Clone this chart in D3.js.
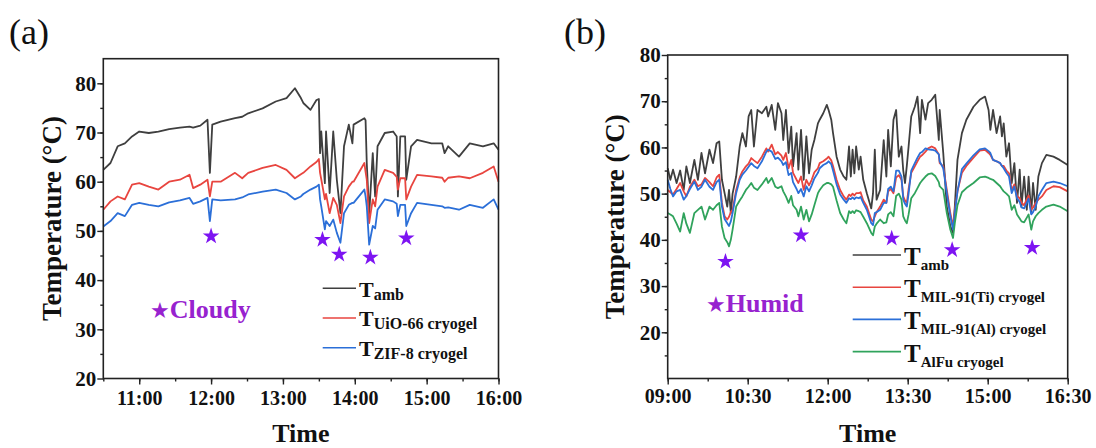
<!DOCTYPE html>
<meta charset="UTF-8">
<style>
  body { margin: 0; background: #fff; }
</style>
<svg width="1096" height="448"></svg>
<script src="https://d3js.org/d3.v7.min.js"></script>
<script>

// ---- panel (a): cloudy day ----
var timeA = ["10:30","10:36","10:42","10:48","10:54","11:00","11:08","11:16","11:25","11:34",
  "11:42","11:45","11:51","11:57","11:59","12:01","12:08","12:20","12:26","12:31",
  "12:43","12:54","13:03","13:10","13:15","13:17","13:23","13:28","13:30","13:31",
  "13:32","13:35","13:36","13:39","13:42","13:45","13:48","13:51","13:55","13:58",
  "13:59","14:08","14:09","14:10","14:12","14:15","14:17","14:19","14:25","14:32",
  "14:35","14:36","14:38","14:42","14:43","14:47","14:52","15:04","15:13","15:15",
  "15:18","15:27","15:36","15:47","15:56","16:00"];
var ambA = [62.4,63.8,67.2,67.8,69.2,70.2,69.9,70.2,70.7,71.0,
  71.2,71.0,71.4,72.6,61.8,71.6,72.2,72.9,73.2,73.9,
  74.9,76.3,77.0,79.0,77.0,76.0,74.6,76.6,76.8,65.8,
  70.2,59.7,70.2,57.7,70.2,60.4,53.6,67.2,71.6,67.8,
  71.6,72.9,72.5,63.8,53.3,65.8,57.0,67.2,69.9,70.2,
  69.2,57.0,69.2,69.2,60.4,67.2,68.5,67.8,67.8,65.8,
  67.2,65.1,67.8,67.2,67.8,66.5];
var uioA = [54.3,56.0,57.0,56.4,59.4,59.7,59.0,58.4,60.0,60.4,
  61.4,58.7,59.4,60.4,57.0,60.0,60.0,61.8,60.7,61.8,
  62.8,63.4,62.4,60.7,61.5,61.8,63.1,64.0,64.6,61.8,
  60.5,56.4,57.5,53.6,56.7,55.3,51.6,57.0,59.0,60.0,
  60.0,63.8,62.0,60.4,51.6,56.4,55.0,59.0,62.4,61.8,
  61.0,58.4,60.7,60.7,56.4,59.0,61.4,61.1,60.8,60.0,
  60.8,61.1,60.7,61.8,63.1,60.0];
var zifA = [50.9,52.0,53.6,53.0,55.3,55.7,55.3,55.0,55.8,56.2,
  56.7,55.5,56.0,56.7,52.0,56.4,56.2,56.4,56.8,57.4,
  58.0,58.4,57.7,56.4,57.0,57.5,58.4,59.0,59.4,56.4,
  55.0,50.3,52.0,51.0,52.3,49.6,47.6,53.6,55.3,55.7,
  55.7,58.4,57.0,55.0,47.2,51.0,50.5,54.3,56.4,56.0,
  55.5,53.0,55.3,55.3,51.0,53.6,55.7,55.3,55.0,54.7,
  54.8,54.3,55.3,54.7,56.4,54.3];
var starTimeA = ["12:00","13:33","13:47","14:13","14:43"];
var starTempA = [48.9,48.2,45.2,44.6,48.5];
var xTicksA = ["11:00","12:00","13:00","14:00","15:00","16:00"];
var yTicksA = [20,30,40,50,60,70,80];

// ---- panel (b): humid day ----
var timeB = ["09:00","09:03","09:06","09:10","09:14","09:18","09:21","09:25","09:30","09:34",
  "09:38","09:42","09:47","09:51","09:55","09:58","10:01","10:04","10:07","10:09",
  "10:11","10:13","10:17","10:21","10:24","10:28","10:31","10:34","10:37","10:41",
  "10:46","10:51","10:53","10:57","11:01","11:04","11:08","11:10","11:13","11:16",
  "11:19","11:21","11:25","11:27","11:30","11:33","11:36","11:39","11:42","11:45",
  "11:49","11:51","11:55","11:59","12:01","12:04","12:06","12:10","12:14","12:18",
  "12:21","12:24","12:26","12:28","12:30","12:32","12:35","12:37","12:40","12:44",
  "12:49","12:51","12:53","12:55","12:59","13:03","13:06","13:08","13:11","13:14",
  "13:17","13:20","13:23","13:25","13:27","13:29","13:31","13:34","13:38","13:41",
  "13:44","13:46","13:50","13:53","13:57","14:01","14:05","14:06","14:10","14:14",
  "14:18","14:21","14:23","14:26","14:31","14:36","14:44","14:51","14:57","15:01",
  "15:03","15:06","15:10","15:14","15:16","15:18","15:21","15:24","15:27","15:30",
  "15:33","15:36","15:38","15:41","15:44","15:46","15:49","15:51","15:54","15:57",
  "16:01","16:06","16:14","16:21","16:30"];
var ambB = [55.5,53.0,55.2,52.3,55.0,50.8,55.9,52.3,57.3,53.0,
  58.8,54.4,59.5,56.6,60.9,61.3,53.0,50.1,47.2,50.8,
  45.8,50.0,53.7,60.2,63.1,60.2,66.7,68.1,60.2,68.1,
  67.4,68.8,66.7,69.2,63.8,69.6,67.4,61.6,68.1,58.8,
  64.5,55.9,63.1,55.2,63.8,53.0,62.4,54.4,59.5,61.6,
  65.2,66.0,67.4,69.2,68.1,66.0,63.1,58.0,55.2,53.7,
  53.0,60.2,53.7,59.5,54.4,60.2,55.2,58.0,53.0,50.1,
  46.8,50.1,59.5,48.7,50.8,61.6,53.7,63.8,55.9,66.0,
  68.1,58.0,60.2,55.0,52.3,56.0,60.2,66.7,68.8,71.0,
  63.1,70.3,66.0,69.6,70.3,71.4,61.6,68.1,58.8,47.2,
  42.9,41.5,47.2,57.3,63.1,66.0,68.8,70.3,71.0,68.1,
  63.8,68.1,63.1,66.7,62.4,65.2,58.0,60.9,52.3,56.6,
  48.0,55.2,47.2,53.7,46.5,53.7,45.8,52.3,46.5,53.7,
  56.6,58.4,58.0,57.3,56.2];
var tiB = [50.8,50.3,49.8,51.0,52.3,50.5,49.4,51.5,53.0,51.6,
  52.0,53.4,52.5,51.6,53.5,54.1,48.0,45.1,44.4,45.0,
  46.0,46.5,50.8,53.5,54.8,55.9,56.5,57.7,57.2,56.6,
  58.0,59.8,59.1,60.6,58.5,59.0,58.2,57.3,58.8,55.5,
  57.3,54.5,53.0,52.3,53.7,50.8,53.0,51.8,53.0,54.6,
  55.5,56.6,57.0,57.6,58.0,57.2,56.0,53.0,50.8,49.4,
  48.7,49.8,49.5,50.0,49.6,50.1,50.1,50.3,48.5,47.2,
  44.4,44.0,45.1,46.0,47.2,48.7,48.0,50.5,51.0,50.1,
  53.5,54.0,53.0,49.4,48.5,48.0,51.0,54.5,55.9,57.0,
  58.0,58.3,59.1,59.8,60.2,59.8,58.5,56.6,55.9,50.8,
  45.8,42.9,46.5,50.5,54.5,56.0,57.8,59.3,59.5,58.8,
  58.4,57.3,57.0,56.6,56.0,56.0,55.0,54.4,50.8,52.0,
  49.5,49.0,48.0,47.5,48.8,49.6,46.5,47.0,48.0,48.7,
  49.4,50.8,51.6,51.4,50.5];
var alB = [53.0,51.0,49.4,50.5,50.8,48.7,49.5,51.0,52.6,50.8,
  51.5,53.0,51.5,50.8,52.5,53.0,47.2,44.5,43.6,43.0,
  44.0,45.8,50.1,53.0,54.1,55.0,55.8,56.6,56.0,55.5,
  57.0,59.1,59.5,59.1,57.5,57.8,57.0,56.2,56.8,54.0,
  54.5,52.5,51.0,50.1,51.0,49.4,51.6,50.5,51.8,53.3,
  54.5,55.5,56.2,56.6,57.0,56.4,55.0,52.0,49.8,48.7,
  48.0,49.0,48.8,49.2,48.8,49.2,49.0,49.3,48.0,46.5,
  43.6,43.2,45.8,46.0,46.5,48.0,48.0,51.0,51.5,50.5,
  55.0,55.0,53.7,48.7,47.8,47.2,50.0,55.0,56.6,57.8,
  58.8,59.0,59.8,59.6,59.5,59.3,58.5,57.0,55.5,50.1,
  45.1,42.2,45.8,50.5,55.3,56.5,58.3,59.6,59.8,59.2,
  58.8,57.3,57.0,56.6,56.0,55.5,54.5,53.7,50.1,51.5,
  49.0,48.2,47.0,46.8,48.0,48.9,45.5,46.0,47.2,49.4,
  50.8,52.3,52.6,52.3,51.6];
var alfuB = [45.8,45.5,45.1,43.5,41.8,45.8,43.5,41.5,45.8,46.5,
  47.2,44.4,47.2,46.5,47.5,48.0,42.9,40.4,39.5,38.6,
  40.0,42.2,47.2,48.5,49.4,50.8,51.5,52.3,51.3,50.8,
  52.0,53.4,52.3,53.4,51.5,51.2,51.6,50.5,49.4,48.0,
  49.5,47.5,46.5,45.1,47.2,44.4,46.5,44.0,45.5,47.5,
  50.1,50.8,51.8,52.3,52.3,52.0,51.5,48.5,45.8,44.4,
  43.6,46.2,45.8,46.2,45.8,46.4,46.2,46.0,45.0,43.6,
  41.5,41.0,42.9,43.5,44.4,43.6,43.8,45.5,46.0,45.1,
  49.5,50.0,48.7,45.1,44.2,43.6,45.5,49.0,50.1,51.2,
  52.3,52.8,53.7,54.2,54.4,53.8,52.5,51.6,50.8,45.8,
  42.2,40.4,43.6,47.5,50.3,51.2,52.3,53.5,53.7,53.4,
  53.2,53.0,52.3,51.6,51.0,50.5,50.0,49.4,46.5,47.5,
  45.5,44.6,44.0,43.8,44.8,45.5,42.2,44.0,45.1,45.8,
  46.5,47.2,47.6,47.2,46.2];
var starTimeB = ["10:05","11:30","13:12","14:20","15:50"];
var starTempB = [35.3,41.0,40.3,37.8,38.3];
var xTicksB = ["09:00","10:30","12:00","13:30","15:00","16:30"];
var yTicksB = [20,30,40,50,60,70,80];

var serif = '"Liberation Serif", "Times New Roman", serif';
var cGray = "#3f3f3f", cRed = "#e8453f", cBlue = "#2b6fd8", cGreen = "#30a35c";
var cStar = "#7d14f2", cNote = "#9722cf";

var svg = d3.select("svg");

function toMin(s) { var p = s.split(":"); return +p[0] * 60 + +p[1]; }
function hhmm(m) { return d3.format("02d")(Math.floor(m / 60)) + ":" + d3.format("02d")(m % 60); }

function drawPanel(o) {
  var g = svg.append("g");
  var x = d3.scaleLinear().domain([toMin(o.start), toMin(o.end)]).range([o.left, o.right]);
  var y = d3.scaleLinear().domain(o.yDomain).range([o.bottom, o.top]);

  // minor ticks
  g.append("g").attr("transform", "translate(0," + o.bottom + ")")
    .call(d3.axisBottom(x).tickValues(d3.range(toMin(o.start), toMin(o.end) + 1, o.minorStep)).tickSize(3).tickFormat(""));
  g.append("g").attr("transform", "translate(" + o.left + ",0)")
    .call(d3.axisLeft(y).tickValues(d3.range(o.yDomain[0] + 5, o.yDomain[1], 5)).tickSize(3).tickFormat(""));

  // major ticks + labels
  g.append("g").attr("class", "xa").attr("transform", "translate(0," + o.bottom + ")")
    .call(d3.axisBottom(x).tickValues(o.xTicks.map(toMin)).tickSize(6).tickPadding(o.xPad).tickFormat(hhmm));
  g.append("g").attr("class", "ya").attr("transform", "translate(" + o.left + ",0)")
    .call(d3.axisLeft(y).tickValues(o.yTicks).tickSize(6).tickPadding(1));

  g.selectAll(".domain").remove();
  g.selectAll(".tick line").attr("stroke", "#222").attr("stroke-width", 1.4);
  g.selectAll(".tick text").attr("font-family", serif).attr("font-weight", "bold").attr("fill", "#111");
  g.selectAll(".xa .tick text").attr("font-size", 20);
  g.selectAll(".ya .tick text").attr("font-size", 21);

  // series
  var line = d3.line().x(function(d) { return x(toMin(d[0])); }).y(function(d) { return y(d[1]); });
  o.series.forEach(function(s) {
    g.append("path")
      .datum(d3.zip(o.times, s.values))
      .attr("fill", "none")
      .attr("stroke", s.color)
      .attr("stroke-width", 1.8)
      .attr("stroke-linejoin", "round")
      .attr("d", line);
  });

  // frame
  g.append("rect")
    .attr("x", o.left).attr("y", o.top)
    .attr("width", o.right - o.left).attr("height", o.bottom - o.top)
    .attr("fill", "none").attr("stroke", "#222").attr("stroke-width", 1.6);

  // star markers
  g.selectAll(".star")
    .data(d3.zip(o.starTimes, o.starTemps))
    .join("path")
    .attr("d", d3.symbol(d3.symbolStar, 85))
    .attr("fill", cStar)
    .attr("transform", function(d) { return "translate(" + x(toMin(d[0])) + "," + y(d[1]) + ")"; });

  // legend
  o.series.forEach(function(s, i) {
    var ly = o.legY + i * o.legStep;
    g.append("line")
      .attr("x1", o.legX).attr("x2", o.legX + o.legLen)
      .attr("y1", ly).attr("y2", ly)
      .attr("stroke", s.color).attr("stroke-width", 1.6);
    var t = g.append("text")
      .attr("x", o.legX + o.legLen + 3).attr("y", ly + o.legBase)
      .attr("font-family", serif).attr("font-weight", "bold").attr("fill", "#111")
      .attr("font-size", o.legT);
    t.append("tspan").text("T");
    t.append("tspan").attr("dy", o.subDy).attr("font-size", o.legSub).text(s.sub);
  });

  // weather note
  var note = g.append("text")
    .attr("x", o.noteX).attr("y", o.noteY)
    .attr("font-family", serif).attr("font-weight", "bold")
    .attr("font-size", 26).attr("fill", cNote);
  note.append("tspan").attr("font-family", "DejaVu Sans").attr("font-size", 22).text("★");
  note.append("tspan").text(o.note);

  // axis titles
  g.append("text")
    .attr("transform", "translate(" + o.yTitleX + "," + ((o.top + o.bottom) / 2) + ") rotate(-90)")
    .attr("text-anchor", "middle")
    .attr("font-family", serif).attr("font-weight", "bold").attr("font-size", 27).attr("fill", "#111")
    .text("Temperature (°C)");
  g.append("text")
    .attr("x", (o.left + o.right) / 2).attr("y", 442)
    .attr("text-anchor", "middle")
    .attr("font-family", serif).attr("font-weight", "bold").attr("font-size", 26).attr("fill", "#111")
    .text("Time");

  // panel letter
  g.append("text")
    .attr("x", o.letterX).attr("y", 44)
    .attr("font-family", serif).attr("font-size", 36).attr("fill", "#111")
    .text(o.letter);
}

drawPanel({
  left: 103.3, right: 498.5, top: 58.7, bottom: 378.5,
  start: "10:30", end: "16:00", minorStep: 30, xTicks: xTicksA, xPad: 6,
  yDomain: [20, 85], yTicks: yTicksA,
  times: timeA,
  series: [
    {sub: "amb", values: ambA, color: cGray},
    {sub: "UiO-66 cryogel", values: uioA, color: cRed},
    {sub: "ZIF-8 cryogel", values: zifA, color: cBlue}
  ],
  starTimes: starTimeA, starTemps: starTempA,
  legX: 322.7, legLen: 33.3, legY: 288.3, legStep: 29.7, legBase: 8.4, subDy: 3, legT: 22, legSub: 16,
  note: "Cloudy", noteX: 150, noteY: 318,
  yTitleX: 60.5, letter: "(a)", letterX: 9
});

drawPanel({
  left: 667.7, right: 1067.7, top: 55, bottom: 378.5,
  start: "09:00", end: "16:30", minorStep: 45, xTicks: xTicksB, xPad: 4,
  yDomain: [10, 80], yTicks: yTicksB,
  times: timeB,
  series: [
    {sub: "amb", values: ambB, color: cGray},
    {sub: "MIL-91(Ti) cryogel", values: tiB, color: cRed},
    {sub: "MIL-91(Al) cryogel", values: alB, color: cBlue},
    {sub: "AlFu cryogel", values: alfuB, color: cGreen}
  ],
  starTimes: starTimeB, starTemps: starTempB,
  legX: 852.7, legLen: 48.3, legY: 255, legStep: 32.2, legBase: 10, subDy: 5, legT: 25, legSub: 15,
  note: "Humid", noteX: 706, noteY: 311.5,
  yTitleX: 624, letter: "(b)", letterX: 564
});

</script>
